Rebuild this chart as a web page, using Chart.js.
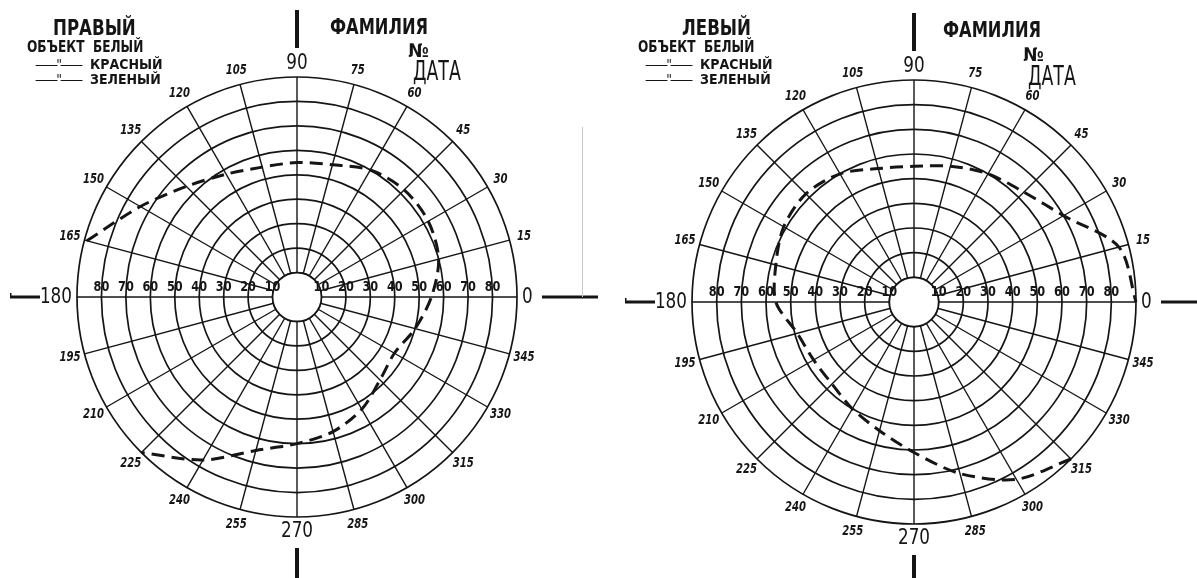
<!DOCTYPE html>
<html lang="ru">
<head>
<meta charset="utf-8">
<title>Поле зрения</title>
<script src="https://cdn.jsdelivr.net/npm/chart.js@4.4.1/dist/chart.umd.min.js"></script>
<style>
  html, body { margin: 0; padding: 0; background: #fff; }
  body { width: 1197px; height: 578px; position: relative; overflow: hidden; }
  canvas { position: absolute; top: 0; }
  #fieldRight { left: 0; }
  #fieldLeft { left: 598px; }
  .t {
    position: absolute; white-space: nowrap; color: #151515; line-height: 1;
    font-family: "DejaVu Sans Condensed", "DejaVu Sans", sans-serif; font-weight: bold;
    transform-origin: 0 0; z-index: 2;
  }
  .head { font-size: 22px; transform: scaleX(0.84); }
  .obj { font-size: 15px; transform: scaleX(0.9); }
  .sub { font-size: 14px; }
  .sub span { letter-spacing: -2px; font-weight: normal; }
  .fam { font-size: 21px; transform: scaleX(0.86); }
  .num { font-size: 19px; }
  .date { font-size: 26px; font-weight: normal; transform: scaleX(0.74); }
  .edge { position: absolute; left: 582px; top: 127px; width: 1px; height: 170px; background: #c8c8c8; }
</style>
</head>
<body>
<canvas id="fieldRight" width="598" height="578"></canvas>
<canvas id="fieldLeft" width="599" height="578"></canvas>
<div class="edge"></div>

<div class="t head" style="left:53px; top:17px;">ПРАВЫЙ</div>
<div class="t obj" style="left:27px; top:40px;">ОБЪЕКТ&nbsp;&nbsp;БЕЛЫЙ</div>
<div class="t sub" style="left:35px; top:57px;"><span>——"——</span>&nbsp;&nbsp;КРАСНЫЙ</div>
<div class="t sub" style="left:35px; top:72px;"><span>——"——</span>&nbsp;&nbsp;ЗЕЛЕНЫЙ</div>
<div class="t fam" style="left:330px; top:17px;">ФАМИЛИЯ</div>
<div class="t num" style="left:408px; top:41px;">№</div>
<div class="t date" style="left:413px; top:58px;">ДАТА</div>

<div class="t head" style="left:682px; top:17px;">ЛЕВЫЙ</div>
<div class="t obj" style="left:638px; top:40px;">ОБЪЕКТ&nbsp;&nbsp;БЕЛЫЙ</div>
<div class="t sub" style="left:645px; top:57px;"><span>——"——</span>&nbsp;&nbsp;КРАСНЫЙ</div>
<div class="t sub" style="left:645px; top:72px;"><span>——"——</span>&nbsp;&nbsp;ЗЕЛЕНЫЙ</div>
<div class="t fam" style="left:943px; top:20px;">ФАМИЛИЯ</div>
<div class="t num" style="left:1023px; top:45px;">№</div>
<div class="t date" style="left:1028px; top:63px;">ДАТА</div>

<script>
// meridians, degrees counterclockwise from 0 (right)
const ANGLES = [0, 15, 30, 45, 60, 75, 90, 105, 120, 135, 150, 165,
                180, 195, 210, 225, 240, 255, 270, 285, 300, 315, 330, 345];

// white object boundary, degrees of visual field (null = beyond 90)
const RIGHT_EYE_WHITE = [55, 60, 62, 62, 60, 56, 55, 55, 58, 64, 74, 89,
                         null, null, null, 90, 77, 65, 60, 57, 53, 48, 46, 50];
const LEFT_EYE_WHITE = [90, 86, 70, 63, 60, 57, 55, 56, 60, 62, 61, 58,
                        56, 49, 47, 47, 50, 54, 61, 72, 83, 90, null, null];

const RADIAL_TICKS = [10, 20, 30, 40, 50, 60, 70, 80];

const INK = "#151515";
const SMALL_FONT = 'bold italic 14px "DejaVu Sans Condensed", "DejaVu Sans", sans-serif';
const BIG_FONT = '22px "DejaVu Sans Condensed", "DejaVu Sans", sans-serif';
const RING_FONT = 'bold 14px "DejaVu Sans Condensed", "DejaVu Sans", sans-serif';

// radar goes clockwise from startAngle, the chart form goes counterclockwise
function toRadarOrder(arr) {
  const n = arr.length;
  return arr.map((_, i) => arr[(n - i) % n]);
}

// narrow lettering like the drafting font of the form
function narrowText(ctx, text, x, y, sx) {
  ctx.save();
  ctx.translate(x, y);
  ctx.scale(sx, 1);
  ctx.fillText(text, 0, 0);
  ctx.restore();
}

const perimetryDecor = {
  id: "perimetryDecor",
  beforeDatasetsDraw(chart) {
    const s = chart.scales.r;
    const ctx = chart.ctx;
    const hole = s.getDistanceFromCenterForValue(RADIAL_TICKS[0]);
    ctx.save();
    ctx.beginPath();
    ctx.arc(s.xCenter, s.yCenter, hole, 0, Math.PI * 2);
    ctx.fillStyle = "#fff";
    ctx.fill();
    ctx.lineWidth = 1.7;
    ctx.strokeStyle = INK;
    ctx.stroke();
    ctx.restore();
  },
  afterDatasetsDraw(chart) {
    const s = chart.scales.r;
    const ctx = chart.ctx;
    const r = s.drawingArea;
    const xc = s.xCenter, yc = s.yCenter;

    ctx.save();
    ctx.fillStyle = INK;
    ctx.textAlign = "center";
    ctx.textBaseline = "middle";

    // meridian labels
    chart.data.labels.forEach((ang, i) => {
      const text = String(ang);
      let dist, sx;
      if (ang % 90 === 0) {
        ctx.font = BIG_FONT;
        sx = 0.85;
        const w = ctx.measureText(text).width * sx;
        dist = r + 5 + (ang % 180 === 0 ? w / 2 : 9);
      } else {
        ctx.font = SMALL_FONT;
        sx = 0.8;
        dist = r + 15;
      }
      const p = s.getPointPosition(i, dist);
      narrowText(ctx, text, p.x, p.y, sx);
    });

    // degree rings along the horizontal
    ctx.font = RING_FONT;
    RADIAL_TICKS.forEach((v) => {
      const d = s.getDistanceFromCenterForValue(v);
      narrowText(ctx, String(v), xc - d, yc - 10, 0.9);
      narrowText(ctx, String(v), xc + d, yc - 10, 0.9);
    });

    // heavy marks on the main axes
    ctx.fillRect(xc - 2, yc - r - 67, 4, 38);
    ctx.fillRect(xc - 2, yc + r + 31, 4, chart.height);
    ctx.fillRect(xc - r - 67, yc - 1.5, 30, 3);
    ctx.fillRect(xc - r - 67, yc - 4, 1.5, 4);
    ctx.fillRect(xc + r + 25, yc - 1.5, chart.width, 3);
    ctx.restore();
  },
};

function makeField(canvasId, values, padding) {
  return new Chart(document.getElementById(canvasId), {
    type: "radar",
    data: {
      labels: toRadarOrder(ANGLES),
      datasets: [
        {
          data: toRadarOrder(values),
          borderColor: INK,
          borderWidth: 3,
          borderDash: [13, 7],
          pointRadius: 0,
          fill: false,
          spanGaps: false,
          tension: 0.3,
        },
      ],
    },
    options: {
      responsive: false,
      animation: false,
      layout: { padding: padding },
      plugins: { legend: { display: false }, tooltip: { enabled: false } },
      scales: {
        r: {
          min: 0,
          max: 90,
          startAngle: 90,
          ticks: { display: false, stepSize: 10 },
          grid: { circular: true, color: INK, lineWidth: 1.7 },
          angleLines: { color: INK, lineWidth: 1.4 },
          pointLabels: { display: false },
        },
      },
    },
    plugins: [perimetryDecor],
  });
}

makeField("fieldRight", RIGHT_EYE_WHITE, { left: 77, top: 77, right: 81, bottom: 61 });
makeField("fieldLeft", LEFT_EYE_WHITE, { left: 94, top: 80, right: 61, bottom: 54 });
</script>
</body>
</html>
